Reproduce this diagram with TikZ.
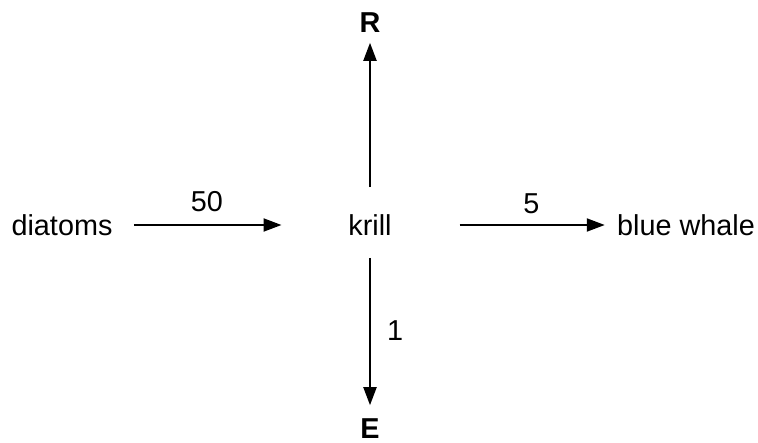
\documentclass[tikz,border=0pt]{standalone}
\usepackage{fontspec}
\setmainfont{Liberation Sans}
\usetikzlibrary{arrows.meta}
\usetikzlibrary{positioning}
\tikzset{flow/.style = {-{Triangle[length=9pt, width=6.5pt]}, line width = 1pt}}
\tikzset{organism/.style = {inner sep = 0, font = \fontsize{14.4pt}{17pt}\selectfont}}
\tikzset{loss/.style = {inner sep = 0, font = \fontsize{14.4pt}{17pt}\selectfont\bfseries}}

\begin{document}
\begin{tikzpicture}[x=0.5pt, y=-0.5pt]
      \useasboundingbox (0, 0) rectangle (758, 443);
      \node [organism] (krill) at (370, 225) {krill};
      \node [organism] (diatoms) at (62, 225) {diatoms};
      \node [organism] (whale) at (686, 225) {blue whale};
      \node [loss] (R) at (370, 22.5) {R};
      \node [loss] (E) at (370, 428.5) {E};
      \draw [flow, shorten <= 10.5pt, shorten >= 33.25pt] (diatoms) -- (krill)
            node [organism, above = 6pt, pos = 0.4] (fifty) {50};
      \draw [flow, shorten <= 33.75pt, shorten >= 6pt] (krill) -- (whale)
            node [organism, above = 5pt, pos = 0.62] (five) {5};
      \draw [flow, shorten <= 13.5pt, shorten >= 5pt] (krill) -- (R);
      \draw [flow, shorten <= 11pt, shorten >= 6.5pt] (krill) -- (E)
            node [organism, right = 8pt, pos = 0.52] (one) {1};
    \end{tikzpicture}
\end{document}
